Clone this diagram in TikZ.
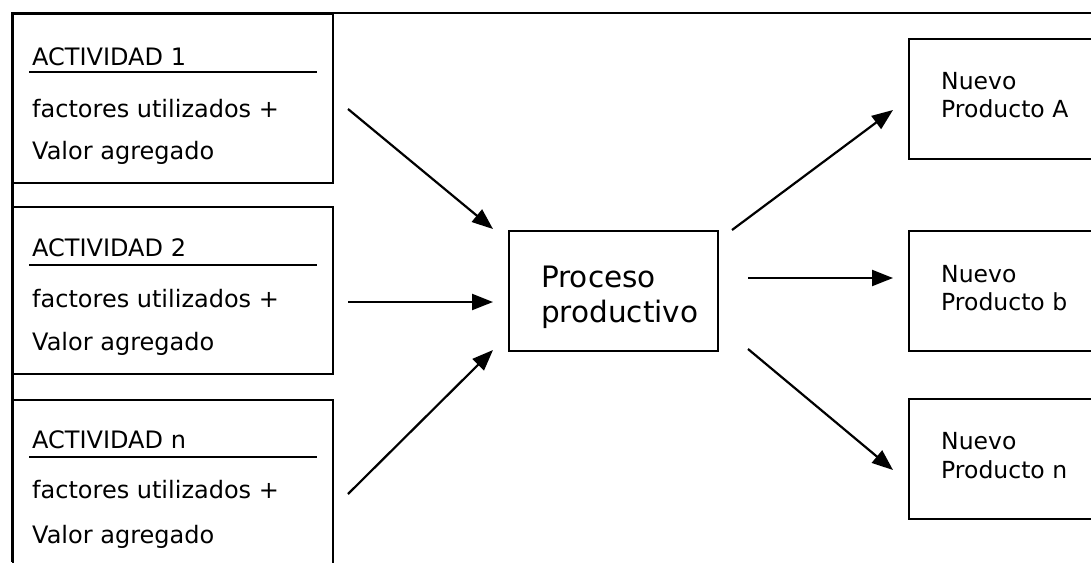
\documentclass[tikz,border=0pt]{standalone}
\usepackage{fontspec}
\setmainfont{DejaVu Sans}
\usetikzlibrary{arrows.meta}
\begin{document}
\begin{tikzpicture}[x=1pt,y=-1pt,
  frame/.style={draw,line width=2.2pt,rectangle,anchor=north west,inner sep=0pt},
  lbl/.style={anchor=base west,inner sep=0pt,font=\fontsize{24}{28}\selectfont},
  prodlbl/.style={anchor=base west,inner sep=0pt,font=\fontsize{23.5}{28}\selectfont},
  biglbl/.style={anchor=base west,inner sep=0pt,font=\fontsize{29.5}{35}\selectfont},
  rule/.style={line width=2.2pt},
  flow/.style={line width=2.2pt,-{Triangle[length=21pt,width=16pt]}}]
\useasboundingbox (0,0) rectangle (1091,562);
\clip (0,0) rectangle (1091,562);
% outer frame: top and left rules
\draw[line width=2.2pt] (11,13) -- (1091,13);
\draw[line width=3pt] (12,13) -- (12,562);

% activity boxes
\node[frame,minimum width=320pt,minimum height=169pt] (act1) at (12,13) {};
\node[frame,minimum width=320pt,minimum height=167pt] (act2) at (12,206) {};
\node[frame,minimum width=320pt,minimum height=180pt] (act3) at (12,399) {};

\node[lbl] (t1a) at (32,65) {ACTIVIDAD 1};
\draw[rule] (29,72) -- (317,72);
\node[lbl] (t1b) at (32,117) {factores utilizados +};
\node[lbl] (t1c) at (32,159) {Valor agregado};

\node[lbl] (t2a) at (32,256) {ACTIVIDAD 2};
\draw[rule] (29,265) -- (317,265);
\node[lbl] (t2b) at (32,307) {factores utilizados +};
\node[lbl] (t2c) at (32,350) {Valor agregado};

\node[lbl] (t3a) at (32,448) {ACTIVIDAD n};
\draw[rule] (29,457) -- (317,457);
\node[lbl] (t3b) at (32,498) {factores utilizados +};
\node[lbl] (t3c) at (32,543) {Valor agregado};

% central process
\node[frame,minimum width=209pt,minimum height=120pt] (proc) at (508,230) {};
\node[biglbl] (pa) at (541,287) {Proceso};
\node[biglbl] (pb) at (541,322) {productivo};

% product boxes
\node[frame,minimum width=190pt,minimum height=120pt] (prA) at (908,38) {};
\node[frame,minimum width=190pt,minimum height=120pt] (prB) at (908,230) {};
\node[frame,minimum width=190pt,minimum height=120pt] (prN) at (908,398) {};
\node[prodlbl] (na1) at (941,89) {Nuevo};
\node[prodlbl] (na2) at (941,117) {Producto A};
\node[prodlbl] (nb1) at (941,282) {Nuevo};
\node[prodlbl] (nb2) at (941,310) {Producto b};
\node[prodlbl] (nn1) at (941,449) {Nuevo};
\node[prodlbl] (nn2) at (941,478) {Producto n};

% arrow end points
\coordinate (i1s) at (348,109); \coordinate (i1e) at (493,229);
\coordinate (i2s) at (348,302); \coordinate (i2e) at (493,302);
\coordinate (i3s) at (348,494); \coordinate (i3e) at (493,350);
\coordinate (o1s) at (732,230); \coordinate (o1e) at (893,110);
\coordinate (o2s) at (748,278); \coordinate (o2e) at (893,278);
\coordinate (o3s) at (748,349); \coordinate (o3e) at (893,470);

\draw[flow] (i1s) -- (i1e);
\draw[flow] (i2s) -- (i2e);
\draw[flow] (i3s) -- (i3e);
\draw[flow] (o1s) -- (o1e);
\draw[flow] (o2s) -- (o2e);
\draw[flow] (o3s) -- (o3e);
\end{tikzpicture}
\end{document}
